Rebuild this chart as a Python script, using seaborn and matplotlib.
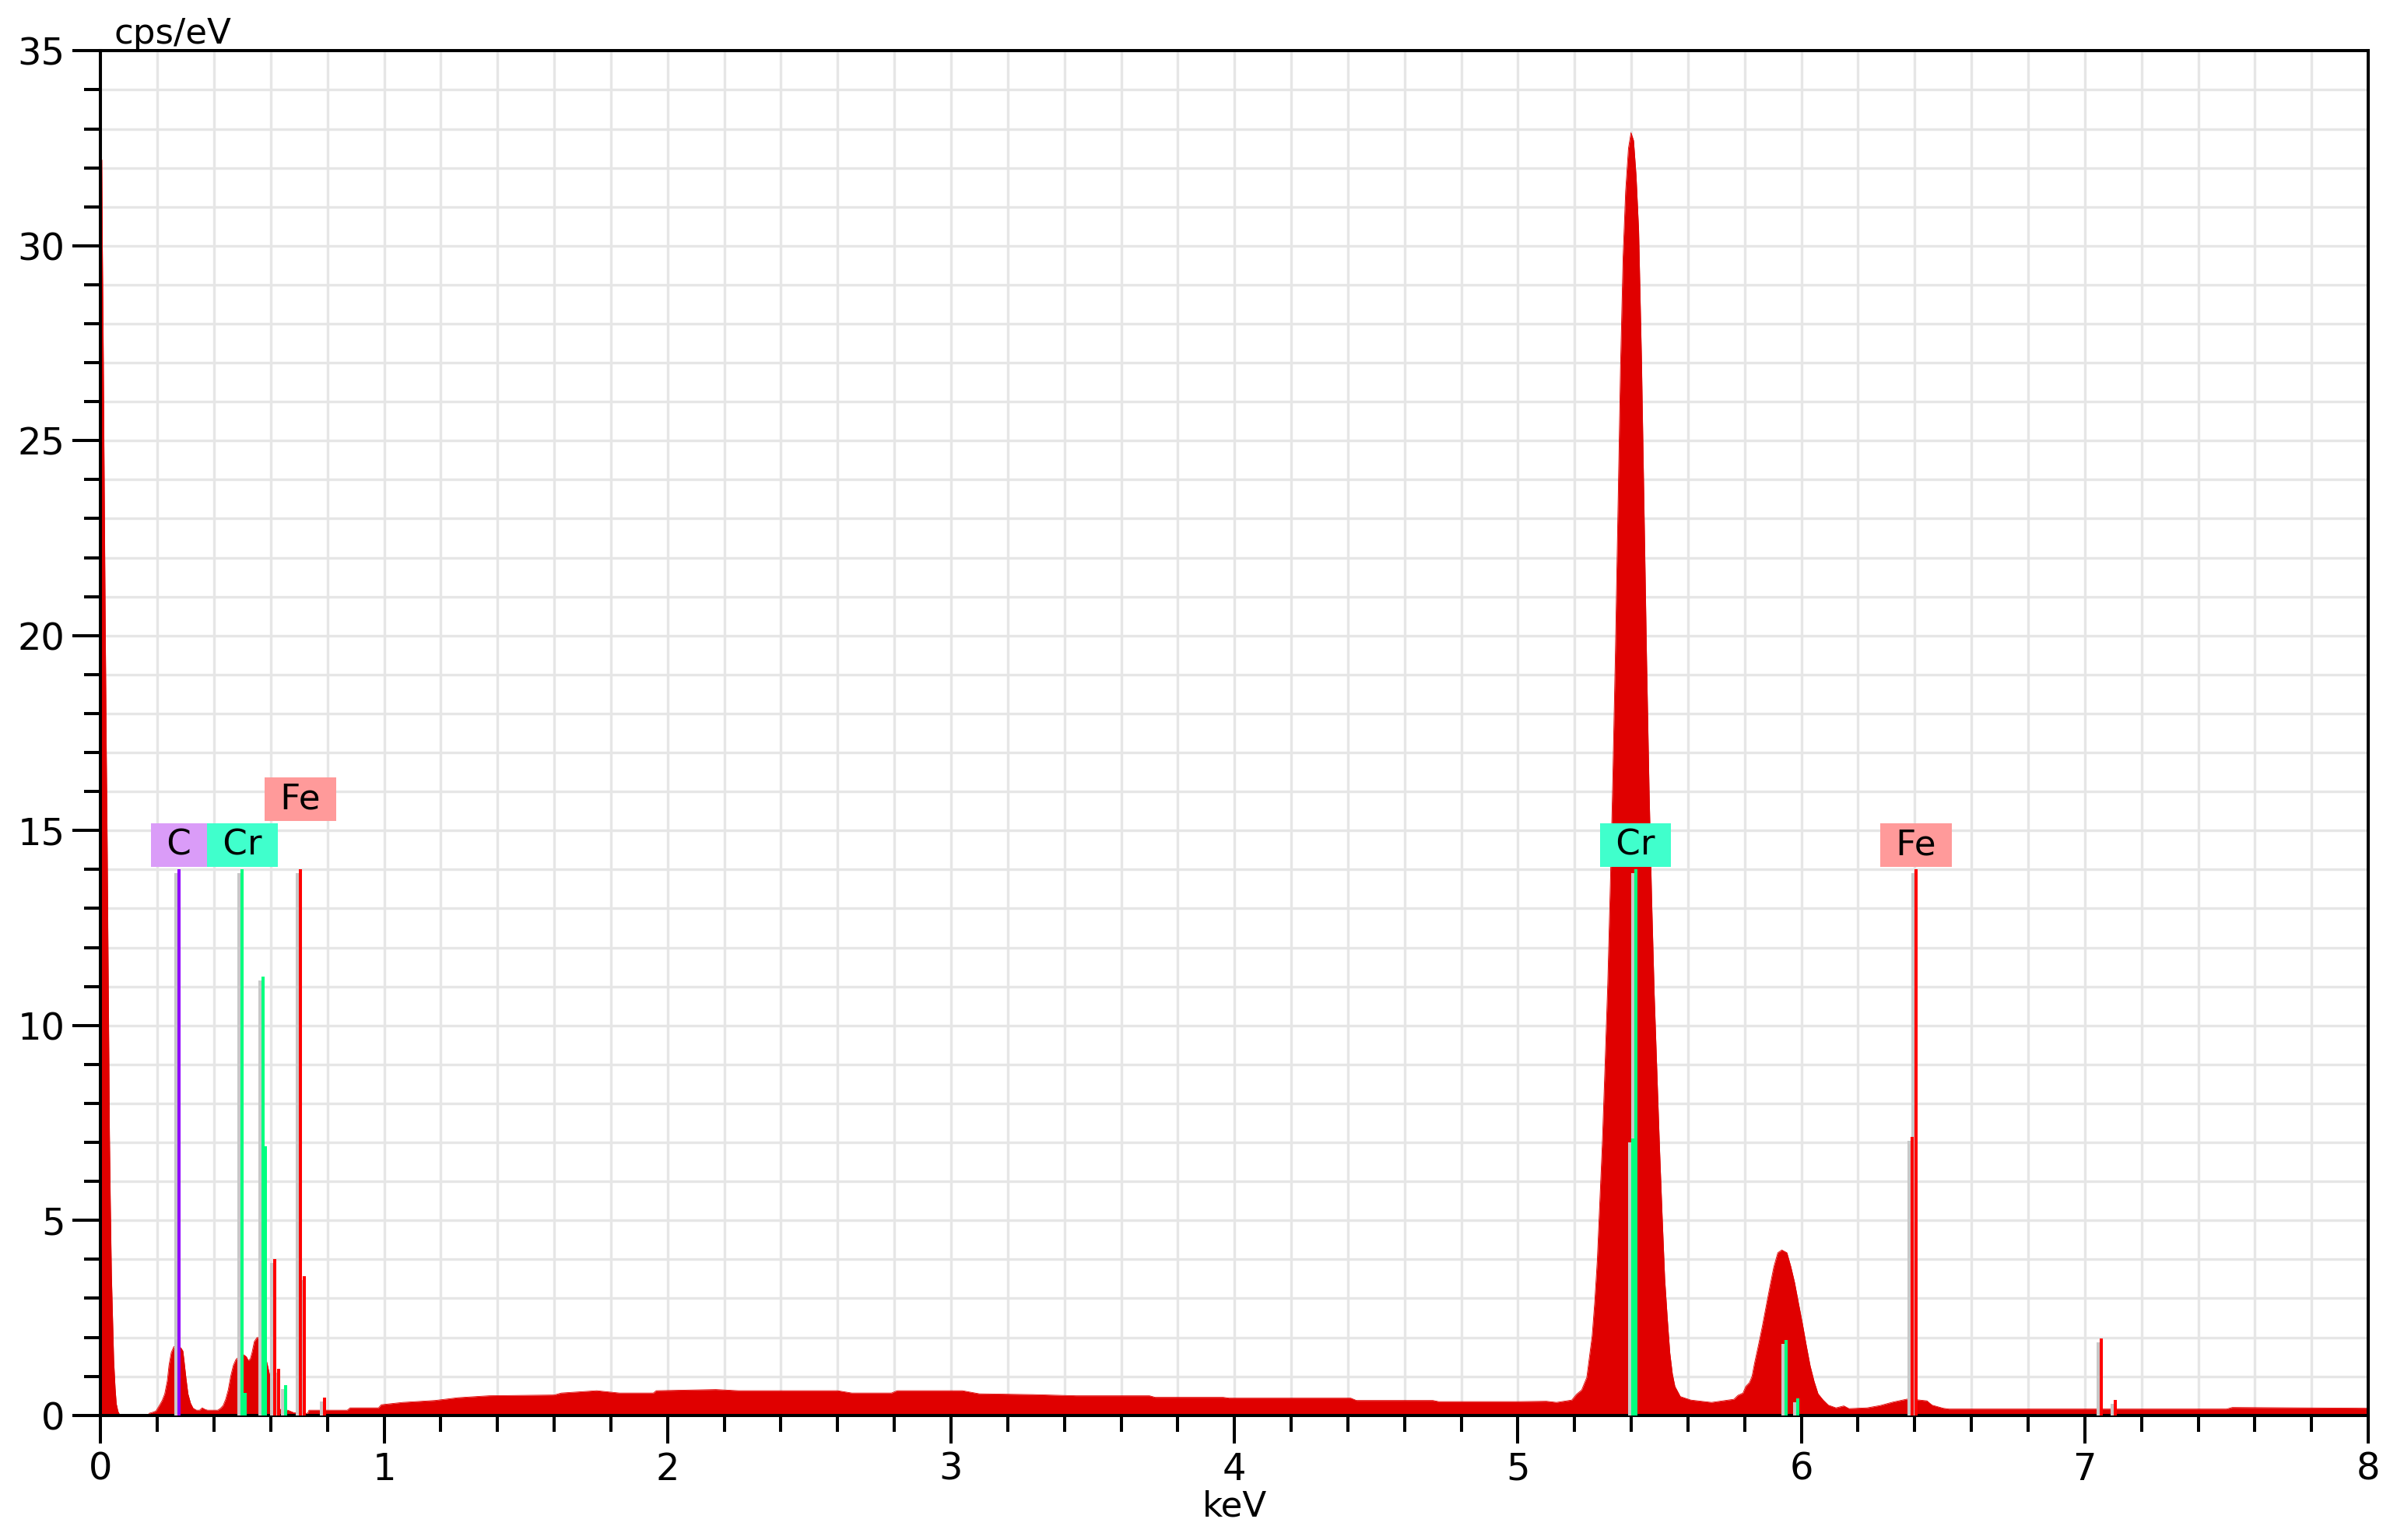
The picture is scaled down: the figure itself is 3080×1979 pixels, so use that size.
import numpy as np
import matplotlib
matplotlib.use("Agg")
import matplotlib.pyplot as plt
import matplotlib.transforms as mtransforms
from matplotlib.ticker import MultipleLocator
import seaborn as sns

# spectrum (keV, cps/eV)
energy_kev = [
    0.000, 0.004, 0.006, 0.009, 0.012, 0.016, 0.020, 0.023, 0.026, 0.029,
    0.031, 0.034, 0.038, 0.042, 0.046, 0.051, 0.055, 0.061, 0.068, 0.168,
    0.171, 0.185, 0.195, 0.207, 0.217, 0.226, 0.235, 0.241, 0.249, 0.258,
    0.270, 0.283, 0.290, 0.294, 0.301, 0.308, 0.317, 0.326, 0.338, 0.349,
    0.358, 0.368, 0.377, 0.413, 0.423, 0.432, 0.441, 0.450, 0.459, 0.468,
    0.477, 0.490, 0.505, 0.514, 0.521, 0.528, 0.534, 0.542, 0.551, 0.560,
    0.575, 0.589, 0.597, 0.604, 0.610, 0.622, 0.640, 0.660, 0.680, 0.700,
    0.730, 0.735, 0.800, 0.870, 0.880, 0.980, 0.990, 1.066, 1.180, 1.260,
    1.370, 1.600, 1.625, 1.750, 1.830, 1.950, 1.960, 2.170, 2.250, 2.600,
    2.650, 2.790, 2.810, 3.040, 3.100, 3.290, 3.440, 3.700, 3.720, 3.960,
    3.980, 4.410, 4.430, 4.700, 4.720, 5.000, 5.100, 5.136, 5.190, 5.207,
    5.225, 5.243, 5.262, 5.271, 5.280, 5.289, 5.298, 5.307, 5.317, 5.326,
    5.335, 5.344, 5.353, 5.362, 5.371, 5.380, 5.390, 5.399, 5.408, 5.417,
    5.426, 5.436, 5.445, 5.454, 5.463, 5.472, 5.481, 5.490, 5.500, 5.509,
    5.518, 5.527, 5.536, 5.545, 5.554, 5.573, 5.610, 5.683, 5.762, 5.776,
    5.794, 5.804, 5.817, 5.826, 5.835, 5.849, 5.862, 5.876, 5.890, 5.903,
    5.917, 5.931, 5.949, 5.963, 5.976, 5.990, 6.004, 6.017, 6.031, 6.045,
    6.059, 6.077, 6.095, 6.122, 6.150, 6.168, 6.232, 6.278, 6.324, 6.370,
    6.379, 6.416, 6.443, 6.461, 6.500, 6.520, 7.500, 7.520, 8.000,
]
counts = [
    32.3, 32.2, 30.0, 27.5, 24.5, 20.5, 17.0, 14.7, 11.9, 9.2,
    7.2, 5.5, 3.6, 2.5, 1.4, 0.7, 0.3, 0.1, 0.0, 0.0,
    0.05, 0.08, 0.11, 0.25, 0.38, 0.55, 0.88, 1.28, 1.61, 1.76,
    1.77, 1.73, 1.65, 1.41, 0.95, 0.55, 0.31, 0.18, 0.13, 0.13,
    0.19, 0.15, 0.13, 0.13, 0.18, 0.25, 0.41, 0.65, 1.01, 1.28,
    1.43, 1.52, 1.55, 1.50, 1.40, 1.45, 1.61, 1.89, 1.99, 2.00,
    1.70, 1.27, 1.00, 0.75, 0.50, 0.25, 0.10, 0.13, 0.07, 0.05,
    0.05, 0.13, 0.13, 0.13, 0.19, 0.19, 0.27, 0.33, 0.38, 0.45,
    0.50, 0.52, 0.57, 0.63, 0.57, 0.57, 0.63, 0.66, 0.63, 0.63,
    0.57, 0.57, 0.63, 0.63, 0.55, 0.53, 0.50, 0.50, 0.46, 0.46,
    0.44, 0.44, 0.38, 0.38, 0.35, 0.35, 0.36, 0.33, 0.39, 0.54,
    0.65, 0.97, 2.04, 2.9, 3.97, 5.5, 7.0, 8.9, 11.1, 13.6,
    16.4, 19.6, 23.3, 26.9, 29.7, 31.4, 32.5, 32.9, 32.7, 31.8,
    30.4, 27.1, 23.3, 19.4, 16.0, 13.2, 10.8, 8.9, 6.8, 5.1,
    3.5, 2.5, 1.6, 1.06, 0.74, 0.48, 0.39, 0.33, 0.41, 0.51,
    0.57, 0.74, 0.84, 1.00, 1.34, 1.81, 2.27, 2.81, 3.34, 3.81,
    4.17, 4.24, 4.17, 3.81, 3.41, 2.87, 2.34, 1.81, 1.27, 0.87,
    0.55, 0.39, 0.26, 0.19, 0.24, 0.17, 0.19, 0.25, 0.34, 0.41,
    0.42, 0.39, 0.37, 0.26, 0.18, 0.16, 0.16, 0.20, 0.18,
]

# element marker lines (keV, height in cps/eV)
c_lines_kev = [0.277]
c_lines_h = [14.0]
cr_lines_kev = [0.500, 0.510, 0.573, 0.580, 0.652, 5.406, 5.415, 5.947, 5.986]
cr_lines_h = [14.0, 0.57, 11.25, 6.9, 0.77, 7.1, 14.0, 1.94, 0.43]
fe_lines_kev = [0.615, 0.628, 0.705, 0.719, 0.790, 6.391, 6.404, 7.058, 7.108]
fe_lines_h = [4.0, 1.2, 14.0, 3.56, 0.45, 7.15, 14.0, 1.98, 0.39]

# element tags
tag_text = ["C", "Cr", "Fe", "Cr", "Fe"]
tag_kev = [0.277, 0.500, 0.705, 5.415, 6.404]
tag_row = [0, 0, 1, 0, 0]

line_colors = {"C": "#9000FF", "Cr": "#00FF7F", "Fe": "#FF0000"}
box_colors = {"C": "#DA9CF8", "Cr": "#40FFCC", "Fe": "#FF9A9A"}

sns.set_style("white")
plt.rcParams["font.family"] = ["DejaVu Sans"]
plt.rcParams.update({"text.color": "black", "axes.labelcolor": "black",
                     "xtick.color": "black", "ytick.color": "black"})

fig = plt.figure(figsize=(30.8, 19.79), dpi=100)
ax = fig.add_axes([0.042, 0.081, 0.946, 0.886])

ax.fill_between(energy_kev, counts, 0, color="#E00000", lw=0, zorder=2)
sns.lineplot(x=energy_kev, y=counts, ax=ax, color="#E00000", lw=0.6, zorder=2)

shadow = mtransforms.offset_copy(ax.transData, fig=fig, x=-4, y=-5, units="dots")
for name, xs, hs in [("C", c_lines_kev, c_lines_h),
                     ("Cr", cr_lines_kev, cr_lines_h),
                     ("Fe", fe_lines_kev, fe_lines_h)]:
    ax.vlines(xs, 0, hs, colors="#C8C8C8", lw=2.9, capstyle="butt",
              transform=shadow, zorder=3)
    ax.vlines(xs, 0, hs, colors=line_colors[name], lw=2.9, capstyle="butt",
              zorder=4)

for name, e, row in zip(tag_text, tag_kev, tag_row):
    ax.text(e, 14.63 + 1.17 * row, " " + name + " ", ha="center", va="center",
            fontsize=32.5, color="black", zorder=5,
            bbox=dict(boxstyle="square,pad=0.14", fc=box_colors[name], ec="none"))

ax.set_xlim(0, 8)
ax.set_ylim(0, 35)
ax.xaxis.set_major_locator(MultipleLocator(1))
ax.xaxis.set_minor_locator(MultipleLocator(0.2))
ax.yaxis.set_major_locator(MultipleLocator(5))
ax.yaxis.set_minor_locator(MultipleLocator(1))
ax.grid(which="both", color="#E6E6E6", lw=2.4)
ax.set_axisbelow(True)

for s in ax.spines.values():
    s.set_visible(True)
    s.set_color("black")
    s.set_linewidth(2.9)
ax.tick_params(which="major", length=26, width=2.9, labelsize=34.5, pad=7,
               direction="out", bottom=True, left=True, top=False, right=False)
ax.tick_params(which="minor", length=15, width=2.9, direction="out",
               bottom=True, left=True, top=False, right=False)

ax.set_xlabel("keV", fontsize=32.5, labelpad=2)
ax.set_ylabel("")
ax.text(0.006, 1.0, "cps/eV", transform=ax.transAxes, ha="left", va="bottom",
        fontsize=32.5)

fig.savefig("out.png", dpi=100, facecolor="white")
